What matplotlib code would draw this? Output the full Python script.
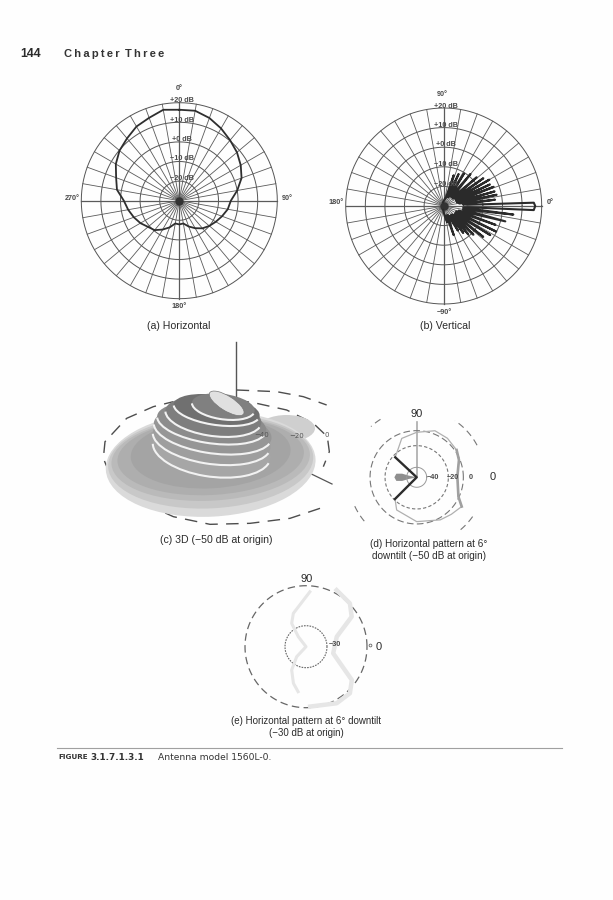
import numpy as np
import matplotlib
matplotlib.use("Agg")
import matplotlib.pyplot as plt
from matplotlib.patches import Ellipse, Arc

W, H = 613, 900

# panel (a), horizontal pattern, dB every 10 deg clockwise from the top
az_a = list(range(0, 360, 10))
db_a = [16.4, 16.6, 14.9, 12.6, 10.3, 8.4, 6.2, 3.8, 0.0, -3.7, -4.9, -6.8,
        -8.5, -10.0, -11.6, -13.8, -16.0, -18.2, -17.9, -18.2, -15.5, -13.0,
        -10.4, -9.2, -7.1, -5.3, -3.5, -1.7, 2.3, 4.3, 7.4, 9.8, 11.5, 13.7,
        15.0, 17.1]

# panel (b), vertical pattern, lobes and nulls
el_b = [-100, -85, -78, -75, -71, -66, -60, -57, -54, -51, -49, -46, -44, -41,
        -38, -35, -32, -29, -26, -23, -20, -17, -14, -10, -7, -5, -3, -2.6, 0,
        2.1, 3, 5, 7, 9, 12, 14, 16, 18, 21, 23, 25, 27, 30, 32, 35, 38, 41, 45,
        50, 54, 58, 61, 65, 68, 72, 76, 80, 100]
db_b = [-28, -25, -21.5, -25, -14.3, -25, -15.5, -24, -13, -24, -10.9, -24, -8.9, -23,
        -4.4, -23, -2.0, -23, -0.2, -23, -1.9, -22, 2.4, -20, 5.8, -20, -18, 16, 16.7,
        16, -18, -20, -3.6, -22, -2.4, -23, -3.0, -23, -2.7, -23, -4.0, -23, -3.1, -23,
        -5.3, -24, -7.7, -24, -8.7, -24, -10.4, -25, -12, -25, -13.5, -26, -26, -28]

# panel (d), horizontal pattern at 6 deg downtilt, ring radii and trace
rings_d = [30, 95, 140, 205]
th_d = [137, 111, 90, 68.6, 51.8, 34.3, 22.3, 1, -24.9, -33, -47, -61, -90, -121.5, -135]
r_d = [88, 125, 135, 150, 149, 145, 137, 122, 138, 161, 152, 146, 133, 115, 92]
th_d_heavy = [34.3, 22.3, 1, -24.9, -33]
r_d_heavy = [145, 137, 122, 138, 161]
th_v = [137, 0, -135]
r_v = [88, 0, 92]
th_blob = [180, 168, 166, 170, 180, 190, 194, 192]
r_blob = [0, 25, 45, 62, 67, 62, 45, 25]

# panel (e), horizontal pattern at 6 deg downtilt (-30 dB at origin)
rings_e = [63, 183]
th_e_right = [61.6, 44.6, 33.3, 18, -13.7, -31, -36, -46.7, -61.6, -86]
r_e_right = [193, 185, 164, 97, 84, 136, 170, 192, 193, 180]
th_e_left = [86, 110.8, 121.6, 127.5, 180, 227, 238.4, 251, 260]
r_e_left = [165, 107, 82, 38, 0, 41, 82, 116, 137]

# panel (c), stacked shells of the 3D pattern
base_cy = [388, 380, 372, 365, 355]
base_rx = [315, 308, 298, 280, 240]
base_ry = [157, 140, 125, 115, 105]
base_gray = ["#dadada", "#c8c8c8", "#bababa", "#aeaeae", "#a4a4a4"]
tier_cx = [365, 365, 368, 365, 370, 380, 400]
tier_cy = [345, 315, 287, 265, 245, 225, 215]
tier_rx = [178, 178, 178, 165, 145, 130, 95]
tier_ry = [80, 72, 68, 60, 58, 45, 38]
tier_gray = ["#a6a6a6", "#9e9e9e", "#969696", "#8c8c8c", "#7e7e7e", "#707070", "#808080"]
ring_low_x = [440, 500, 590, 670, 712, 718, 700]
ring_low_y = [195, 205, 225, 265, 305, 350, 395]
ring_front_x = [690, 600, 480, 360, 250, 130, 65, 40, 45, 110, 190, 250]
ring_front_y = [520, 550, 565, 568, 545, 490, 430, 370, 320, 250, 215, 200]
ring_top_x = [440, 560, 640, 710]
ring_top_y = [165, 170, 185, 210]

fig = plt.figure(figsize=(W / 100, H / 100), dpi=100, facecolor="#fefefe")


def polar_panel(cx, cy, radius, rmax):
    ax = fig.add_axes([(cx - radius) / W, 1 - (cy + radius) / H, 2 * radius / W, 2 * radius / H],
                      projection="polar")
    ax.set_facecolor("none")
    ax.set_ylim(0, rmax)
    ax.set_xticks([])
    ax.set_yticks([])
    ax.grid(False)
    ax.spines["polar"].set_visible(False)
    return ax


def full_circle(ax, r, **kw):
    th = np.linspace(0, 2 * np.pi, 361)
    ax.plot(th, np.full_like(th, r), **kw)


def db_grid(ax):
    for r in [10, 20, 30, 40, 50]:
        full_circle(ax, r, color="#555555", lw=0.7, clip_on=False)
    for a in range(0, 360, 10):
        lw = 0.9 if a % 90 == 0 else 0.6
        ax.plot(np.radians([a, a]), [0, 50], color="#5a5a5a", lw=lw, clip_on=False)
    ax.plot([0], [0], "o", color="#333333", ms=5)


# (a)
ax_a = polar_panel(179.3, 200.7, 98, 50)
db_grid(ax_a)
th_a = np.radians(az_a + az_a[:1])
ax_a.set_theta_zero_location("N")
ax_a.set_theta_direction(-1)
ax_a.plot(th_a, np.array(db_a + db_a[:1]) + 30, color="#2e2e2e", lw=1.3)

# (b)
ax_b = polar_panel(443.7, 206, 98, 50)
db_grid(ax_b)
ax_b.plot(np.radians(el_b), np.array(db_b) + 30, color="#2a2a2a", lw=1.5, zorder=4)

# (d)
ax_d = polar_panel(416.7, 477.3, 75, 225)
ax_d.plot(np.radians([90, 90]), [0, 167], color="#aaaaaa", lw=1.2)
full_circle(ax_d, rings_d[0], color="#999999", lw=0.7)
full_circle(ax_d, rings_d[1], color="#777777", lw=0.8, ls=(0, (3, 2)))
full_circle(ax_d, rings_d[2], color="#777777", lw=0.8, ls=(0, (6, 3)))
for a1, a2 in [(122, 132), (28, 56), (-50, -33), (205, 222)]:
    th = np.radians(np.linspace(a1, a2, 20))
    ax_d.plot(th, np.full_like(th, rings_d[3]), color="#777777", lw=0.8, ls=(0, (6, 4)))
ax_d.plot(np.radians(th_d), r_d, color="#b0b0b0", lw=0.9)
ax_d.plot(np.radians(th_d_heavy), r_d_heavy, color="#a0a0a0", lw=1.9)
ax_d.fill(np.radians(th_blob), r_blob, color="#8e8e8e", lw=0)
ax_d.plot(np.radians(th_v), r_v, color="#2c2c2c", lw=1.7)

# (e)
ax_e = polar_panel(306, 646.7, 68, 204)
full_circle(ax_e, rings_e[0], color="#666666", lw=0.8, ls=(0, (1.5, 1)))
full_circle(ax_e, rings_e[1], color="#666666", lw=0.9, ls=(0, (6, 3.5)))
ax_e.plot(np.radians(th_e_right), r_e_right, color="#e6e6e6", lw=3.2, solid_joinstyle="round")
ax_e.plot(np.radians(th_e_left), r_e_left, color="#e6e6e6", lw=2.2, solid_joinstyle="round")

# (c), drawn in its own box, 3 units per pixel
ax_c = fig.add_axes([90 / W, 1 - (335 + 215) / H, 260 / W, 215 / H])
ax_c.set_xlim(0, 780)
ax_c.set_ylim(645, 0)
ax_c.axis("off")
ax_c.plot([437, 437], [20, 200], color="#555555", lw=1.0, zorder=1)
ax_c.plot([660, 726], [415, 447], color="#555555", lw=0.9, zorder=1)
for xs, ys in [(ring_low_x, ring_low_y), (ring_front_x, ring_front_y), (ring_top_x, ring_top_y)]:
    ax_c.plot(xs, ys, color="#4d4d4d", lw=1.0, ls=(0, (9, 6)), zorder=1)
ax_c.add_patch(Ellipse((590, 280), 170, 80, fc="#cfcfcf", ec="none", zorder=2))
for cy, rx, ry, g in zip(base_cy, base_rx, base_ry, base_gray):
    ax_c.add_patch(Ellipse((362, cy), 2 * rx, 2 * ry, angle=-3, fc=g, ec="none", zorder=2))
for cx, cy, rx, ry, g in zip(tier_cx, tier_cy, tier_rx, tier_ry, tier_gray):
    ax_c.add_patch(Ellipse((cx, cy), 2 * rx, 2 * ry, angle=8, fc=g, ec="none", zorder=3))
    ax_c.add_patch(Arc((cx, cy), 2 * rx, 2 * ry, angle=8, theta1=5, theta2=178,
                       ec="#f2f2f2", lw=1.5, zorder=3))
ax_c.add_patch(Ellipse((410, 205), 120, 44, angle=32, fc="#e0e0e0", ec="#777777", lw=0.5, zorder=3))
ax_c.text(515, 300, "\u221240", fontsize=5, color="#555555", ha="center", va="center", zorder=4)
ax_c.text(620, 302, "\u221220", fontsize=5, color="#555555", ha="center", va="center", zorder=4)
ax_c.text(710, 300, "0", fontsize=5, color="#555555", ha="center", va="center", zorder=4)

# page furniture and captions, pixel coordinates
page = fig.add_axes([0, 0, 1, 1], zorder=5)
page.set_xlim(0, W)
page.set_ylim(H, 0)
page.axis("off")
page.patch.set_alpha(0)


def caption(x, y, s, size=7.6, **kw):
    page.text(x, y, s, fontsize=size, family="Liberation Sans", color="#2b2b2b",
              ha=kw.pop("ha", "center"), va="center", **kw)


def tiny(x, y, s, **kw):
    page.text(x, y, s, fontsize=5.2, family="Liberation Sans", weight="bold", color="#4a4a4a",
              ha="center", va="center", **kw)


page.text(20, 54, "144", fontsize=8.8, family="Liberation Sans", weight="bold",
          color="#2a2a2a", va="center")
page.text(64, 54, "C\u2009h\u2009a\u2009p\u2009t\u2009e\u2009r\u2009 T\u2009h\u2009r\u2009e\u2009e",
          fontsize=8, family=["Liberation Sans", "DejaVu Sans"], weight="bold", color="#333333", va="center")

for x, y, s in [(179, 89, "0\u00b0"), (72, 198, "270\u00b0"), (287, 198, "90\u00b0"), (179, 306, "180\u00b0"),
                (442, 94, "90\u00b0"), (336, 203, "180\u00b0"), (550, 203, "0\u00b0"), (444, 312, "\u221290\u00b0")]:
    tiny(x, y, s)
for dy, s in [(0, "+20 dB"), (19.5, "+10 dB"), (39, "+0 dB"), (58.5, "\u221210 dB"), (78, "\u221220 dB")]:
    tiny(181.5, 100.5 + dy, s)
    tiny(446, 106 + dy, s)

caption(179, 326, "(a) Horizontal")
caption(445, 326, "(b) Vertical")
caption(216, 540, "(c) 3D (\u221250 dB at origin)")
caption(429, 544, "(d) Horizontal pattern at 6\u00b0", size=7.2)
caption(429, 556, "downtilt (\u221250 dB at origin)", size=7.2)
caption(417, 414, "90", size=8)
caption(493, 477, "0", size=8)
caption(307, 579, "90", size=8)
caption(379, 647, "0", size=8)
caption(306, 721, "(e) Horizontal pattern at 6\u00b0 downtilt", size=7)
caption(306, 733, "(\u221230 dB at origin)", size=7)
tiny(433, 477.5, "\u221240")
tiny(453, 477.5, "\u221220")
tiny(471, 477.5, "0")
tiny(335, 645, "\u221230")
page.plot([370], [645], "o", ms=2, mfc="none", mec="#666666", mew=0.6)

page.plot([57, 562], [748, 748], color="#a0a0a0", lw=0.8)
page.text(58, 757, "FIGURE", fontsize=5.2, family="DejaVu Sans", weight="bold", color="#333333", va="center")
page.text(90, 757, "3.1.7.1.3.1", fontsize=6.4, family="DejaVu Sans", weight="bold", color="#333333", va="center")
page.text(158, 757, "Antenna model 1560L-0.", fontsize=6.6, family="DejaVu Sans", color="#333333", va="center")

fig.savefig("out.png", dpi=100, facecolor=fig.get_facecolor())
